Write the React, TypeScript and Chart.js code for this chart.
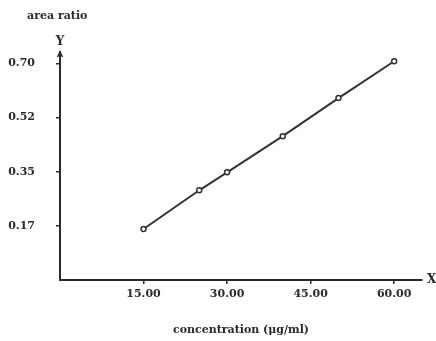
import React, { useEffect, useRef } from 'react';
import { Chart, registerables } from 'chart.js';
Chart.register(...registerables);

const concentration = [15, 25, 30, 40, 50, 60];
const areaRatio = [0.165, 0.29, 0.348, 0.465, 0.588, 0.707];
const xTickValues = [15, 30, 45, 60];
const xTickLabels = ['15.00', '30.00', '45.00', '60.00'];
const yTickValues = [0.175, 0.35, 0.525, 0.7];
const yTickLabels = ['0.17', '0.35', '0.52', '0.70'];
const xTitle = 'concentration (\u03bcg/ml)';
const yTitle = 'area ratio';
const xAxisName = 'X';
const yAxisName = 'Y';

const FONT = '"DejaVu Serif", serif';
const INK = '#2a2a2a';

const decorPlugin = {
  id: 'decor',
  afterDraw(chart: any) {
    const { ctx, chartArea } = chart;
    const { left, right, top, bottom } = chartArea;
    ctx.save();
    ctx.strokeStyle = INK;
    ctx.lineWidth = 1.5;
    ctx.beginPath();
    ctx.moveTo(left - 2.5, top + 5);
    ctx.lineTo(left, top);
    ctx.lineTo(left + 2.5, top + 5);
    ctx.stroke();
    ctx.fillStyle = INK;
    ctx.font = `bold 12px ${FONT}`;
    ctx.textAlign = 'center';
    ctx.textBaseline = 'middle';
    ctx.fillText(yAxisName, left, top - 10);
    ctx.textAlign = 'left';
    ctx.fillText(xAxisName, right + 5, bottom);
    ctx.font = `bold 11px ${FONT}`;
    ctx.fillText(yTitle, 27, 16);
    ctx.restore();
  },
};

export default function App() {
  const ref = useRef<HTMLCanvasElement | null>(null);
  useEffect(() => {
    if (!ref.current) return;
    const chart = new Chart(ref.current, {
      type: 'line',
      data: {
        datasets: [
          {
            data: concentration.map((x, i) => ({ x, y: areaRatio[i] })),
            borderColor: '#333',
            borderWidth: 2,
            pointRadius: 2.5,
            pointBorderWidth: 1.5,
            pointBackgroundColor: '#fff',
            pointBorderColor: '#333',
            tension: 0,
          },
        ],
      },
      options: {
        animation: false,
        responsive: false,
        maintainAspectRatio: false,
        layout: { padding: { top: 52, right: 14, left: 0, bottom: 0 } },
        plugins: { legend: { display: false }, tooltip: { enabled: false }, title: { display: false } },
        scales: {
          x: {
            type: 'linear',
            min: 0,
            max: 65,
            afterBuildTicks: (s: any) => {
              s.ticks = xTickValues.map((v) => ({ value: v }));
            },
            afterFit: (s: any) => {
              s.height = 61;
            },
            ticks: {
              autoSkip: false,
              maxRotation: 0,
              padding: 4,
              color: INK,
              font: { family: FONT, size: 11, weight: 'bold' },
              callback: (v: any) => xTickLabels[xTickValues.indexOf(Number(v))],
            },
            grid: { display: true, drawOnChartArea: false, drawTicks: true, tickLength: 4, color: INK, lineWidth: 1.5 },
            border: { display: true, color: INK, width: 2 },
            title: {
              display: true,
              text: xTitle,
              color: INK,
              font: { family: FONT, size: 11, weight: 'bold' },
              padding: { top: 0, bottom: 4 },
            },
          },
          y: {
            type: 'linear',
            min: 0,
            max: 0.737,
            afterBuildTicks: (s: any) => {
              s.ticks = yTickValues.map((v) => ({ value: v }));
            },
            afterFit: (s: any) => {
              s.width = 60;
            },
            ticks: {
              autoSkip: false,
              padding: 21,
              color: INK,
              font: { family: FONT, size: 11, weight: 'bold' },
              callback: (v: any) => yTickLabels[yTickValues.indexOf(Number(v))],
            },
            grid: { display: true, drawOnChartArea: false, drawTicks: true, tickLength: 4, color: INK, lineWidth: 1.5 },
            border: { display: true, color: INK, width: 2 },
          },
        },
      },
      plugins: [decorPlugin],
    } as any);
    return () => chart.destroy();
  }, []);
  return (
    <div style={{ position: 'fixed', left: 0, top: 0, width: 436, height: 341, background: '#fff' }}>
      <canvas ref={ref} width={436} height={341} style={{ width: 436, height: 341, display: 'block' }} />
    </div>
  );
}
